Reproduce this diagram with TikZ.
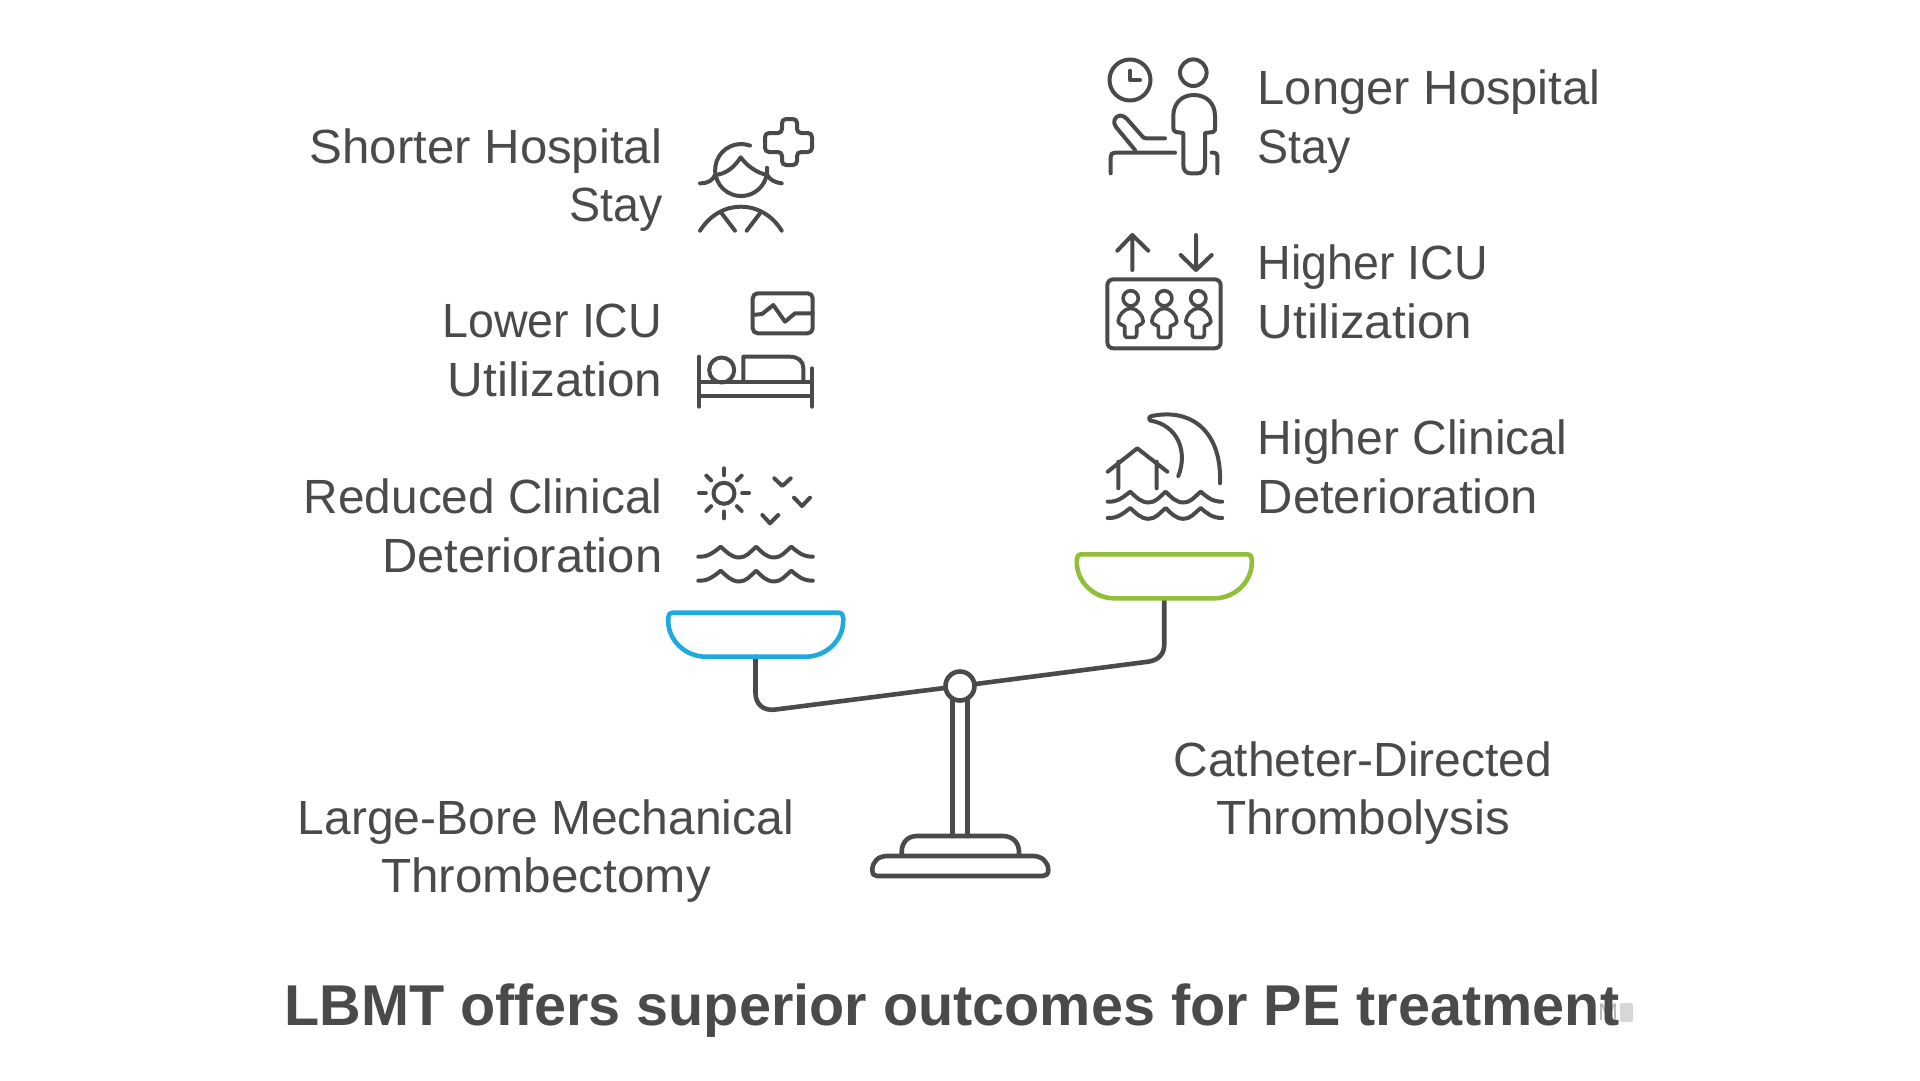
\documentclass[tikz,border=0pt]{standalone}
\usepackage{fontspec}
\usetikzlibrary{calc}
\setmainfont{Liberation Sans}
\definecolor{ink}{HTML}{4A4A4A}
\definecolor{cupblue}{HTML}{1FA9DC}
\definecolor{cupgreen}{HTML}{92BF39}
\newcommand{\xs}[2]{\scalebox{#1}[1]{#2}}
\tikzset{
  icon/.style={draw=ink,line width=4pt,line cap=round,line join=round},
  frame/.style={draw=ink,line width=4.6pt,line cap=round,line join=round},
  lbl/.style={text=ink,inner sep=0pt,font=\fontsize{48}{58.8}\selectfont},
  pics/wave/.style={code={
    \draw[icon] (0,0) .. controls (10,0.6) and (16,-5) .. (22.5,-10)
      .. controls (28,-5) and (33,0.8) .. (41,0.8)
      .. controls (48,0.8) and (52,-5) .. (58,-10)
      .. controls (63,-5) and (68,0.8) .. (76,0.8)
      .. controls (83,0.8) and (87,-5) .. (93,-10)
      .. controls (99,-5) and (104,0) .. (114.5,0);
  }},
  pics/person/.style={code={
    \draw[icon,line width=3.6pt] (0,0) circle (7.6);
    \draw[icon,line width=3.6pt] (0,10) .. controls (-6,10) and (-12.5,17) .. (-12.5,23)
      .. controls (-12.5,25) and (-9,27) .. (-6,28) -- (-6,36) .. controls (-6,38) and (-5,39) .. (-4,39)
      -- (4,39) .. controls (5,39) and (6,38) .. (6,36) -- (6,28)
      .. controls (9,27) and (12.5,25) .. (12.5,23) .. controls (12.5,17) and (6,10) .. (0,10) -- cycle;
  }},
  pics/cup/.style={code={
    \draw[line width=4.6pt,line cap=round,line join=round,draw=#1]
      (-82.5,0) -- (82.5,0) .. controls (86,0) and (87.5,2) .. (87.5,5) -- (87.5,8)
      .. controls (87.5,28) and (70,44) .. (50,44) -- (-50,44)
      .. controls (-70,44) and (-87.5,28) .. (-87.5,8) -- (-87.5,5)
      .. controls (-87.5,2) and (-86,0) .. (-82.5,0) -- cycle;
  }},
}
\begin{document}
\begin{tikzpicture}[x=1pt,y=-1pt]
\useasboundingbox (0,0) rectangle (1920,1080);
% texts
\node[lbl,anchor=east,align=right] (shorter) at (662.5,180) {\xs{1.025}{Shorter Hospital}\\\xs{0.97}{Stay}};
\node[lbl,anchor=east,align=right] (lower) at (662.5,350.5) {\xs{0.97}{Lower ICU}\\\xs{1.03}{Utilization}};
\node[lbl,anchor=east,align=right] (reduced) at (662.5,525.5) {\xs{0.995}{Reduced Clinical}\\\xs{1.02}{Deterioration}};
\node[lbl,anchor=west,align=left] (longer) at (1257.5,121.5) {\xs{1.02}{Longer Hospital}\\\xs{0.97}{Stay}};
\node[lbl,anchor=west,align=left] (higher) at (1257.5,291.5) {\xs{0.97}{Higher ICU}\\\xs{1.03}{Utilization}};
\node[lbl,anchor=west,align=left] (clinical) at (1257.5,466.5) {Higher Clinical\\\xs{1.02}{Deterioration}};
\node[lbl,align=center] (lbmt) at (546,851) {Large-Bore Mechanical\\\xs{1.03}{Thrombectomy}};
\node[lbl,align=center] (cdt) at (1363,793) {Catheter-Directed\\\xs{1.03}{Thrombolysis}};
% faint mark behind the title
\node[text=ink!40,inner sep=0pt,font=\fontsize{24}{24}\selectfont] (mark) at (1608,1012.5) {M};
\node[fill=ink!22,rounded corners=2pt,minimum width=13pt,minimum height=19pt,inner sep=0pt] (markbox) at (1626.5,1012.5) {};
\node[text=ink,inner sep=0pt,font=\bfseries\fontsize{57.6}{60}\selectfont] (title) at (952,1011) {LBMT offers superior outcomes for PE treatment};
% stand and beam
\coordinate (cupL) at (755.5,656.7);
\coordinate (cupR) at (1164.2,598.3);
\node[circle,draw=ink,fill=white,line width=4.6pt,minimum size=29pt,inner sep=0pt] (pivot) at (960,686) {};
\draw[frame] (cupL) -- (755.5,693) .. controls (755.5,704) and (763,711) .. (775,709.6) -- (pivot);
\draw[frame] (pivot) -- (1148,661.7) .. controls (1158,660.5) and (1164.2,654) .. (1164.2,645) -- (cupR);
\draw[frame] (952.5,700.5) -- (952.5,836) (967.5,700.5) -- (967.5,836);
\draw[frame] (901.7,855) -- (901.7,852) .. controls (901.7,842) and (908,836) .. (917,836) -- (1003,836) .. controls (1012,836) and (1019,842) .. (1019,852) -- (1019,855);
\draw[frame] (887,856) -- (1033,856) .. controls (1042,856) and (1048.3,862) .. (1048.3,870) .. controls (1048.3,874) and (1046,876) .. (1043,876) -- (877,876) .. controls (874,876) and (872.3,874) .. (872.3,870) .. controls (872.3,862) and (878,856) .. (887,856) -- cycle;
\pic at (755.7,612.7) {cup=cupblue};
\pic at (1164.3,554.3) {cup=cupgreen};
% nurse icon
\draw[icon,rounded corners=4pt] (782,119) -- (797,119) -- (797,133) -- (812,133) -- (812,152) -- (797,152) -- (797,165) -- (782,165) -- (782,152) -- (765,152) -- (765,133) -- (782,133) -- cycle;
\draw[icon] (750,145.6) arc[start angle=-70,end angle=-365,radius=26];
\draw[icon] (700,183.3) .. controls (708,183.5) and (713,180) .. (715,175) .. controls (727,174) and (735,166) .. (740.7,157.3) .. controls (747,166) and (757,173) .. (767.3,175) .. controls (770,180) and (775,182.5) .. (781.7,183.3);
\draw[icon] (700,230.7) .. controls (710,215) and (725,206.7) .. (740.7,206.7) .. controls (757,206.7) and (772,215) .. (781.7,230.7);
\draw[icon] (721.7,213.3) -- (735,230.7) (760,213.3) -- (746.7,230.7);
% monitor and bed
\draw[icon,rounded corners=5pt] (752.7,293.3) rectangle (812.7,333.3);
\draw[icon] (752.7,315) -- (762,314) -- (773.3,305) -- (785,321.7) -- (795,313.3) -- (812.7,313.3);
\draw[icon] (699.3,356.7) -- (699.3,406.7) (811.7,368.3) -- (811.7,406.7) (699.3,381.7) -- (811.7,381.7) (699.3,396) -- (811.7,396);
\draw[icon] (721.7,370) circle (12.5);
\draw[icon] (743.3,381.7) -- (743.3,356.7) -- (790,356.7) .. controls (798,356.7) and (803.3,361) .. (803.3,368) -- (803.3,381.7);
% sun, birds, waves
\draw[icon] (724,493.3) circle (10.5);
\foreach \a in {0,45,...,315} { \draw[icon] ($(724,493.3)+(\a:18.2)$) -- ($(724,493.3)+(\a:25)$); }
\draw[icon] (774.3,478.3) -- (782.3,486) -- (790.7,478.3) (794,497.7) -- (802,506) -- (810,497.7) (762.3,515) -- (770,523.3) -- (778.3,515);
\pic at (698.3,556.7) {wave};
\pic at (698.3,580.7) {wave};
% clock and patient
\draw[icon] (1130,80) circle (20.5);
\draw[icon] (1130,70.7) -- (1130,80) -- (1140,80);
\draw[icon] (1193.3,72.7) circle (13.3);
\draw[icon] (1183.3,133) -- (1183.3,165) .. controls (1183.3,170) and (1186,173.3) .. (1190,173.3) -- (1198,173.3) .. controls (1202,173.3) and (1205,170) .. (1205,165) -- (1205,133) -- (1213,132) .. controls (1215,131) and (1215,130) .. (1215,128) -- (1215,116) .. controls (1215,103) and (1206,95) .. (1194,95) .. controls (1182,95) and (1173.3,103) .. (1173.3,116) -- (1173.3,128) .. controls (1173.3,130) and (1174,131) .. (1176,132) -- cycle;
\draw[icon] (1211.7,152.7) -- (1214,152.7) .. controls (1216,152.7) and (1217.3,154) .. (1217.3,156) -- (1217.3,173.3);
\draw[icon] (1110.7,173.3) -- (1110.7,157) .. controls (1110.7,154) and (1112,152.7) .. (1115,152.7) -- (1175,152.7);
\draw[icon] (1135,150) -- (1116,127) .. controls (1112,122) and (1115,116) .. (1120,115.5) .. controls (1123,115.5) and (1125,117) .. (1127,119) -- (1142,136) .. controls (1143,137.5) and (1144,138.3) .. (1146,138.3) -- (1165,138.3);
% ICU
\draw[icon] (1132.3,270) -- (1132.3,235) (1117.3,250.7) -- (1132.3,235) -- (1148.3,250.7);
\draw[icon] (1196,235) -- (1196,270) (1180.7,255) -- (1196,270) -- (1211.7,255);
\draw[icon,rounded corners=6pt] (1107.3,279.3) rectangle (1220.7,348.3);
\pic at (1130.7,298.3) {person};
\pic at (1164.3,298.3) {person};
\pic at (1198.3,298.3) {person};
% house and wave
\draw[icon] (1107.7,471.7) -- (1137.3,448.3) -- (1167.3,471.7) (1118.3,461.7) -- (1118.3,488.3) (1156.7,461.7) -- (1156.7,488.3);
\draw[icon] (1178.3,476) .. controls (1188,452) and (1178,425) .. (1150,420.5) .. controls (1148,419) and (1149,416.5) .. (1152,416) .. controls (1190,408) and (1222,430) .. (1220,483.3);
\pic at (1107.7,501.7) {wave};
\pic at (1107.7,518) {wave};
\end{tikzpicture}
\end{document}
